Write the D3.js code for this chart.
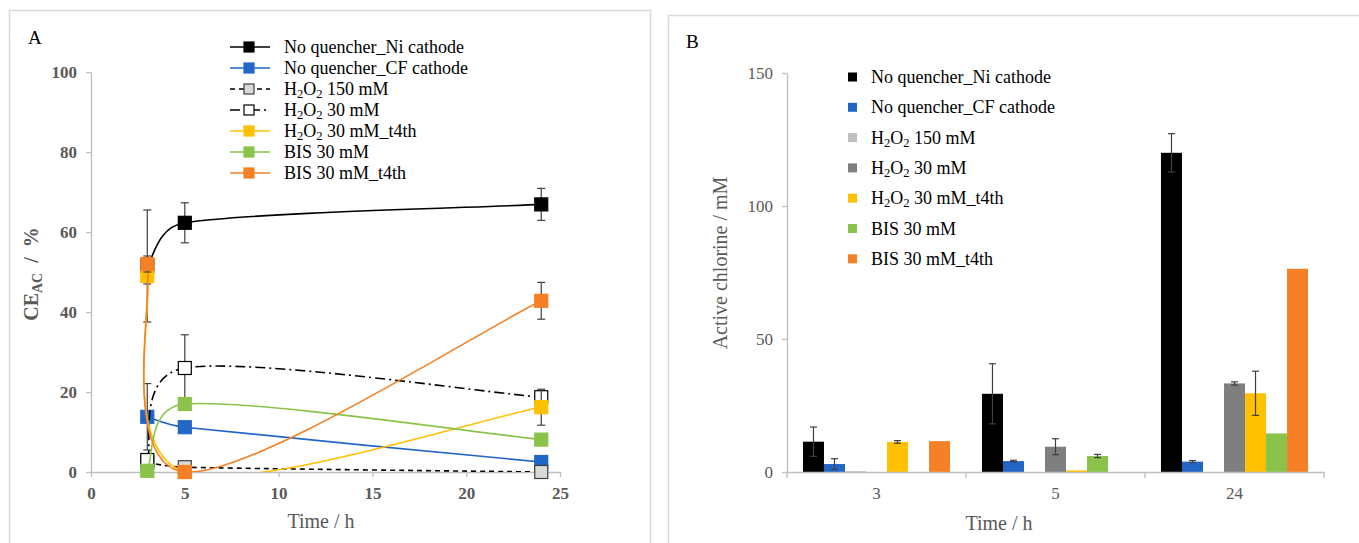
<!DOCTYPE html>
<html>
<head>
<meta charset="utf-8">
<script src="https://cdn.jsdelivr.net/npm/d3@7"></script>
<style>
  body { margin: 0; background: #fff; }
  svg text { font-family: "Liberation Serif", "Times New Roman", serif; }
</style>
</head>
<body>
<svg id="chart" width="1359" height="543" font-family="Liberation Serif, Times New Roman, serif"></svg>
<script>
// ---- data ----
const seriesNames = ["No quencher_Ni cathode", "No quencher_CF cathode", "H2O2 150 mM", "H2O2 30 mM",
                     "H2O2 30 mM_t4th", "BIS 30 mM", "BIS 30 mM_t4th"];
const lineColors = ["#000000", "#2266c8", "#000000", "#000000", "#ffc000", "#8bc34a", "#f58025"];
const markerFills = ["#000000", "#2266c8", "#d9d9d9", "#ffffff", "#ffc000", "#8bc34a", "#f58025"];
const markerStrokes = ["#000000", "#2266c8", "#404040", "#000000", "#ffc000", "#8bc34a", "#f58025"];
const lineDashes = [null, null, "5,4", "10,4,2,4", null, null, null];

// panel A: CE_AC (%) vs time (h)
const timesA = [3, 5, 24];
const ceNi = [51.5, 62.3, 66.9];
const ceNiErr = [14, 5, 4];
const ceCF = [13.8, 11.2, 2.5];
const ceCFErr = [8.3, 0, 0];
const ceH150 = [2.4, 1.2, 0];
const ceH150Err = [0, 0, 0];
const ceH30 = [3.0, 26.0, 18.7];
const ceH30Err = [0, 8.3, 1.5];
const ceH30t = [49, 0, 16.2];
const ceH30tErr = [2, 0, 4.5];
const ceBIS = [0.3, 17.0, 8.1];
const ceBISErr = [0, 0, 0];
const ceBISt = [52, 0, 42.8];
const ceBIStErr = [2, 0, 4.6];
const xTicksA = [0, 5, 10, 15, 20, 25];
const yTicksA = [0, 20, 40, 60, 80, 100];

// panel B: active chlorine (mM) per sampling time
const categoriesB = ["3", "5", "24"];
const barColors = ["#000000", "#2266c8", "#bfbfbf", "#7f7f7f", "#ffc000", "#8bc34a", "#f58025"];
const acNi = [11.4, 29.4, 120];
const acNiErr = [5.5, 11.3, 7.2];
const acCF = [3.0, 4.1, 3.9];
const acCFErr = [2, 0.3, 0.4];
const acH150 = [0.3, 0, 0];
const acH150Err = [0, 0, 0];
const acH30 = [0, 9.5, 33.3];
const acH30Err = [0, 3, 0.6];
const acH30t = [11.3, 0.6, 29.6];
const acH30tErr = [0.5, 0, 8.3];
const acBIS = [0, 6.0, 14.5];
const acBISErr = [0, 0.6, 0];
const acBISt = [11.6, 0, 76.4];
const acBIStErr = [0, 0, 0];
const yTicksB = [0, 50, 100, 150];

const ceValues = [ceNi, ceCF, ceH150, ceH30, ceH30t, ceBIS, ceBISt];
const ceErrors = [ceNiErr, ceCFErr, ceH150Err, ceH30Err, ceH30tErr, ceBISErr, ceBIStErr];
const acValues = [acNi, acCF, acH150, acH30, acH30t, acBIS, acBISt];
const acErrors = [acNiErr, acCFErr, acH150Err, acH30Err, acH30tErr, acBISErr, acBIStErr];

const svg = d3.select("#chart");
const axisColor = "#bfbfbf";
const labelColor = "#595959";
const errColor = "#404040";

// writes a label, turning "H2O2" into H₂O₂ with real subscripts
function richLabel(sel, label) {
    const parts = label.split("H2O2");
    parts.forEach((p, i) => {
        if (i > 0) {
            sel.append("tspan").text("H");
            sel.append("tspan").attr("baseline-shift", "-25%").attr("font-size", "0.7em").text("2");
            sel.append("tspan").text("O");
            sel.append("tspan").attr("baseline-shift", "-25%").attr("font-size", "0.7em").text("2");
        }
        if (p) sel.append("tspan").text(p);
    });
}

function styleAxis(g, bold) {
    g.select(".domain").attr("stroke", axisColor).attr("stroke-width", 1.3);
    g.selectAll(".tick line").attr("stroke", axisColor).attr("stroke-width", 1.3);
    g.selectAll(".tick text")
        .attr("fill", labelColor)
        .attr("font-size", "17px")
        .attr("font-weight", bold ? "bold" : "normal")
        .attr("font-family", "Liberation Serif, Times New Roman, serif");
}

// Excel-like smoothed line: cardinal tangents (1/6), shortened so a control
// arm is never longer than half of the segment it belongs to
function smoothPath(pts) {
    const p = d3.path();
    const n = pts.length;
    const tan = pts.map((d, i) => {
        const a = pts[Math.max(i - 1, 0)], b = pts[Math.min(i + 1, n - 1)];
        return [(b[0] - a[0]) / 6, (b[1] - a[1]) / 6];
    });
    p.moveTo(pts[0][0], pts[0][1]);
    for (let i = 0; i < n - 1; i++) {
        const a = pts[i], b = pts[i + 1];
        const half = Math.hypot(b[0] - a[0], b[1] - a[1]) / 2;
        const ta = tan[i], tb = tan[i + 1];
        const la = Math.hypot(ta[0], ta[1]), lb = Math.hypot(tb[0], tb[1]);
        const sa = la > half ? half / la : 1;
        const sb = lb > half ? half / lb : 1;
        p.bezierCurveTo(a[0] + ta[0] * sa, a[1] + ta[1] * sa,
                        b[0] - tb[0] * sb, b[1] - tb[1] * sb,
                        b[0], b[1]);
    }
    return p.toString();
}

// panel frames
svg.append("rect").attr("x", 9.5).attr("y", 10.5).attr("width", 641).attr("height", 600)
    .attr("fill", "none").attr("stroke", "#d9d9d9").attr("stroke-width", 1.5);
svg.append("rect").attr("x", 668.5).attr("y", 15.5).attr("width", 700).attr("height", 600)
    .attr("fill", "none").attr("stroke", "#d9d9d9").attr("stroke-width", 1.5);

// ================= Panel A =================
const xA = d3.scaleLinear().domain([0, 25]).range([91, 560]);
const yA = d3.scaleLinear().domain([0, 100]).range([472, 72]);

svg.append("text").attr("x", 28).attr("y", 44).attr("font-size", "19px").attr("fill", "#000").text("A");

svg.append("g").attr("transform", `translate(0,${yA(0)})`)
    .call(d3.axisBottom(xA).tickValues(xTicksA).tickSize(5).tickSizeOuter(0).tickPadding(10))
    .call(g => styleAxis(g, true));
svg.append("g").attr("transform", `translate(${xA(0)},0)`)
    .call(d3.axisLeft(yA).tickValues(yTicksA).tickSize(5).tickSizeOuter(0).tickPadding(9))
    .call(g => styleAxis(g, true));

// axis titles
const ceTitle = svg.append("text")
    .attr("transform", "translate(38,274) rotate(-90)")
    .attr("text-anchor", "middle")
    .attr("font-size", "20px").attr("font-weight", "bold").attr("fill", labelColor);
ceTitle.append("tspan").text("CE");
ceTitle.append("tspan").attr("baseline-shift", "-25%").attr("font-size", "0.7em").text("AC");
ceTitle.append("tspan").text(" \u00a0/ \u00a0%");

svg.append("text").attr("x", 321).attr("y", 528).attr("text-anchor", "middle")
    .attr("font-size", "20px").attr("fill", labelColor).text("Time / h");

svg.append("clipPath").attr("id", "plotA")
    .append("rect").attr("x", xA(0)).attr("y", yA(100)).attr("width", xA(25) - xA(0)).attr("height", yA(0) - yA(100));

const mSize = 13;
seriesNames.forEach((name, s) => {
    const pts = timesA.map((t, i) => [t, ceValues[s][i], ceErrors[s][i]]);
    const g = svg.append("g");
    g.append("path")
        .attr("clip-path", "url(#plotA)")
        .attr("fill", "none")
        .attr("stroke", lineColors[s])
        .attr("stroke-width", 1.6)
        .attr("stroke-dasharray", lineDashes[s])
        .attr("d", smoothPath(pts.map(d => [xA(d[0]), yA(d[1])])));
    // error bars
    pts.filter(d => d[2] > 0).forEach(d => {
        const x = xA(d[0]);
        const y1 = yA(d[1] + d[2]), y2 = yA(d[1] - d[2]);
        g.append("line").attr("x1", x).attr("x2", x).attr("y1", y1).attr("y2", y2)
            .attr("stroke", errColor).attr("stroke-width", 1.2);
        [y1, y2].forEach(yy => g.append("line").attr("x1", x - 4).attr("x2", x + 4).attr("y1", yy).attr("y2", yy)
            .attr("stroke", errColor).attr("stroke-width", 1.2));
    });
    g.selectAll("rect.m").data(pts).join("rect")
        .attr("x", d => xA(d[0]) - mSize / 2)
        .attr("y", d => yA(d[1]) - mSize / 2)
        .attr("width", mSize).attr("height", mSize)
        .attr("fill", markerFills[s])
        .attr("stroke", markerStrokes[s])
        .attr("stroke-width", 1.2);
});

// legend A
const legA = svg.append("g");
seriesNames.forEach((name, s) => {
    const y = 47 + s * 21;
    legA.append("line").attr("x1", 230).attr("x2", 270).attr("y1", y).attr("y2", y)
        .attr("stroke", lineColors[s]).attr("stroke-width", 1.6).attr("stroke-dasharray", lineDashes[s]);
    const ms = 10;
    legA.append("rect").attr("x", 249 - ms / 2).attr("y", y - ms / 2).attr("width", ms).attr("height", ms)
        .attr("fill", markerFills[s]).attr("stroke", markerStrokes[s]).attr("stroke-width", 1.2);
    const t = legA.append("text").attr("x", 284).attr("y", y + 6)
        .attr("font-size", "18px").attr("fill", "#000");
    richLabel(t, name);
});

// ================= Panel B =================
const x0 = d3.scaleBand().domain(categoriesB).range([787, 1324]).paddingInner(0).paddingOuter(0);
const x1 = d3.scaleBand().domain(d3.range(seriesNames.length)).range([0, x0.bandwidth()])
    .paddingInner(0).paddingOuter(0.76);
const yB = d3.scaleLinear().domain([0, 150]).range([472, 73]);

svg.append("text").attr("x", 686).attr("y", 48).attr("font-size", "19px").attr("fill", "#000").text("B");

// bars
seriesNames.forEach((name, s) => {
    const g = svg.append("g");
    categoriesB.forEach((c, i) => {
        const v = acValues[s][i];
        if (v <= 0) return;
        const x = x0(c) + x1(s);
        g.append("rect")
            .attr("x", x).attr("y", yB(v))
            .attr("width", x1.bandwidth()).attr("height", yB(0) - yB(v))
            .attr("fill", barColors[s]);
    });
});
// error bars
seriesNames.forEach((name, s) => {
    categoriesB.forEach((c, i) => {
        const e = acErrors[s][i];
        if (e <= 0) return;
        const v = acValues[s][i];
        const x = x0(c) + x1(s) + x1.bandwidth() / 2;
        const y1 = yB(v + e), y2 = yB(Math.max(v - e, 0));
        svg.append("line").attr("x1", x).attr("x2", x).attr("y1", y1).attr("y2", y2)
            .attr("stroke", errColor).attr("stroke-width", 1.2);
        [y1, y2].forEach(yy => svg.append("line").attr("x1", x - 3.5).attr("x2", x + 3.5).attr("y1", yy).attr("y2", yy)
            .attr("stroke", errColor).attr("stroke-width", 1.2));
    });
});

const xAxisB = svg.append("g").attr("transform", `translate(0,${yB(0)})`)
    .call(d3.axisBottom(x0).tickSize(0).tickPadding(15))
    .call(g => styleAxis(g, false));
// category separator ticks
xAxisB.selectAll("line.sep").data([787, 966, 1145, 1324]).join("line")
    .attr("x1", d => d).attr("x2", d => d).attr("y1", 0).attr("y2", 6)
    .attr("stroke", axisColor).attr("stroke-width", 1.3);

svg.append("g").attr("transform", "translate(787,0)")
    .call(d3.axisLeft(yB).tickValues(yTicksB).tickSize(5).tickSizeOuter(0).tickPadding(9))
    .call(g => styleAxis(g, false));

svg.append("text").attr("transform", "translate(727,263) rotate(-90)")
    .attr("text-anchor", "middle").attr("font-size", "20px").attr("fill", labelColor)
    .text("Active chlorine  / mM");
svg.append("text").attr("x", 999).attr("y", 530).attr("text-anchor", "middle")
    .attr("font-size", "20px").attr("fill", labelColor).text("Time / h");

// legend B
const legB = svg.append("g");
seriesNames.forEach((name, s) => {
    const y = 77 + s * 30.3;
    legB.append("rect").attr("x", 848).attr("y", y - 4.5).attr("width", 9).attr("height", 9)
        .attr("fill", barColors[s]);
    const t = legB.append("text").attr("x", 871).attr("y", y + 6)
        .attr("font-size", "18px").attr("fill", "#000");
    richLabel(t, name);
});
</script>
</body>
</html>
